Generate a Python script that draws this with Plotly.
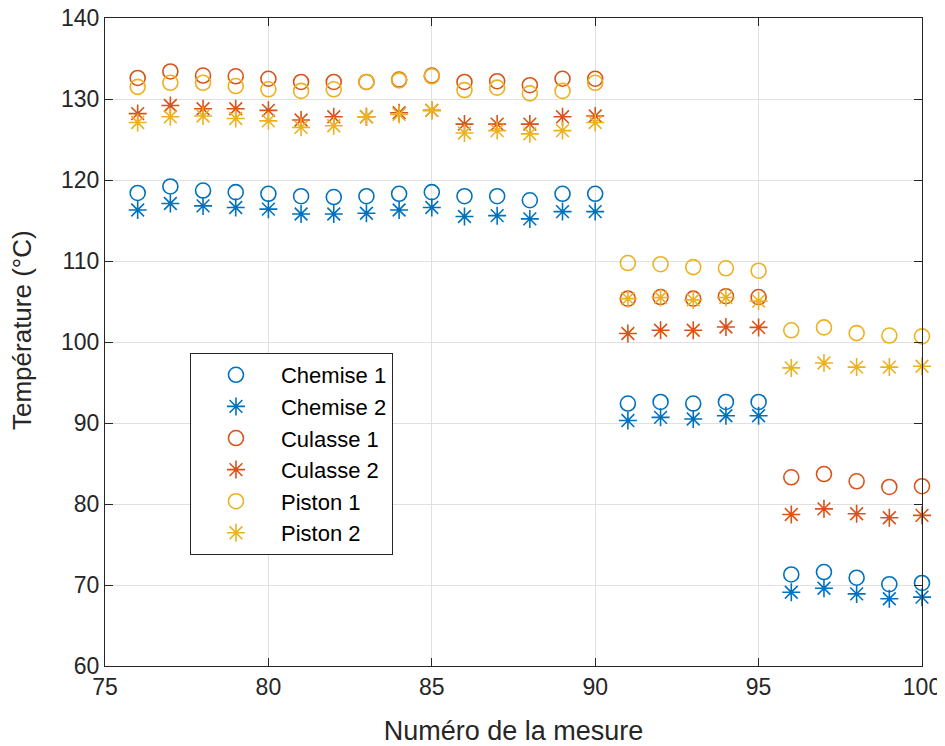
import plotly.graph_objects as go

mesure = [76, 77, 78, 79, 80, 81, 82, 83, 84, 85, 86, 87, 88, 89, 90,
          91, 92, 93, 94, 95, 96, 97, 98, 99, 100]

chemise1 = [118.4, 119.2, 118.7, 118.5, 118.3, 118.0, 117.9, 118.0, 118.3, 118.5,
            118.0, 118.0, 117.5, 118.3, 118.3,
            92.4, 92.6, 92.4, 92.6, 92.6,
            71.3, 71.6, 70.9, 70.1, 70.25]
chemise2 = [116.3, 117.1, 116.8, 116.6, 116.4, 115.8, 115.8, 115.9, 116.3, 116.6,
            115.5, 115.6, 115.2, 116.1, 116.1,
            90.3, 90.7, 90.5, 90.9, 90.9,
            69.1, 69.6, 68.9, 68.3, 68.5]
culasse1 = [132.6, 133.4, 132.9, 132.8, 132.5, 132.1, 132.1, 132.1, 132.4, 132.9,
            132.1, 132.2, 131.7, 132.5, 132.5,
            105.35, 105.55, 105.35, 105.65, 105.55,
            83.3, 83.7, 82.8, 82.1, 82.2]
culasse2 = [128.2, 129.2, 128.8, 128.8, 128.6, 127.4, 127.8, 127.8, 128.3, 128.6,
            126.9, 126.9, 126.9, 127.8, 127.9,
            101.05, 101.45, 101.45, 101.85, 101.8,
            78.7, 79.4, 78.8, 78.3, 78.6]
piston1 = [131.5, 132.0, 132.0, 131.6, 131.2, 131.0, 131.2, 132.1, 132.3, 132.8,
           131.1, 131.4, 130.7, 131.0, 132.0,
           109.75, 109.6, 109.25, 109.1, 108.8,
           101.45, 101.8, 101.1, 100.8, 100.7]
piston2 = [127.1, 127.8, 127.9, 127.6, 127.3, 126.5, 126.7, 127.8, 128.1, 128.6,
           125.8, 126.1, 125.7, 126.1, 127.1,
           105.35, 105.5, 105.2, 105.5, 105.05,
           96.8, 97.4, 96.9, 96.9, 97.0]

series = [
    ("Chemise 1", chemise1, "#0072BD", "circle-open"),
    ("Chemise 2", chemise2, "#0072BD", "asterisk-open"),
    ("Culasse 1", culasse1, "#D95319", "circle-open"),
    ("Culasse 2", culasse2, "#D95319", "asterisk-open"),
    ("Piston 1", piston1, "#EDB120", "circle-open"),
    ("Piston 2", piston2, "#EDB120", "asterisk-open"),
]

FONT = "Liberation Sans, Arial, Helvetica, sans-serif"
AX = "#262626"

fig = go.Figure()
for name, vals, col, sym in series:
    fig.add_trace(go.Scatter(
        x=mesure, y=vals, mode="markers", name=name, cliponaxis=False,
        marker=dict(symbol=sym, size=15, color=col,
                    line=dict(color=col, width=1.6)),
    ))

axis_common = dict(
    showline=True, linecolor=AX, linewidth=1.3, mirror="ticks",
    ticks="inside", ticklen=8, tickwidth=1.3, tickcolor=AX,
    showgrid=True, gridcolor="#e0e0e0", gridwidth=1,
    zeroline=False, automargin=False, ticklabeloverflow="allow",
    tickfont=dict(family=FONT, size=23, color=AX),
)

fig.update_xaxes(range=[75, 100], dtick=5, tick0=75,
                 title=dict(text="Numéro de la mesure",
                            font=dict(family=FONT, size=27, color=AX), standoff=22),
                 **axis_common)
fig.update_yaxes(range=[60, 140], dtick=10, tick0=60, **axis_common)

fig.add_annotation(
    text="Température (°C)", textangle=-90, showarrow=False,
    xref="paper", yref="paper", x=0, y=0.5185,
    xanchor="center", yanchor="middle", xshift=-83,
    font=dict(family=FONT, size=26, color=AX),
)

# page body adds an 8px offset, so the figure is 8px smaller than the window
fig.update_layout(
    width=937, height=738,
    margin=dict(l=97, r=23, t=10, b=80, autoexpand=False),
    paper_bgcolor="white", plot_bgcolor="white",
    font=dict(family=FONT, color=AX),
    legend=dict(
        x=0.104, y=0.483, xanchor="left", yanchor="top",
        bgcolor="white", bordercolor=AX, borderwidth=1,
        font=dict(family=FONT, size=22, color="black"),
        itemwidth=80, tracegroupgap=0,
    ),
    showlegend=True,
)

fig.write_html("out.html")
